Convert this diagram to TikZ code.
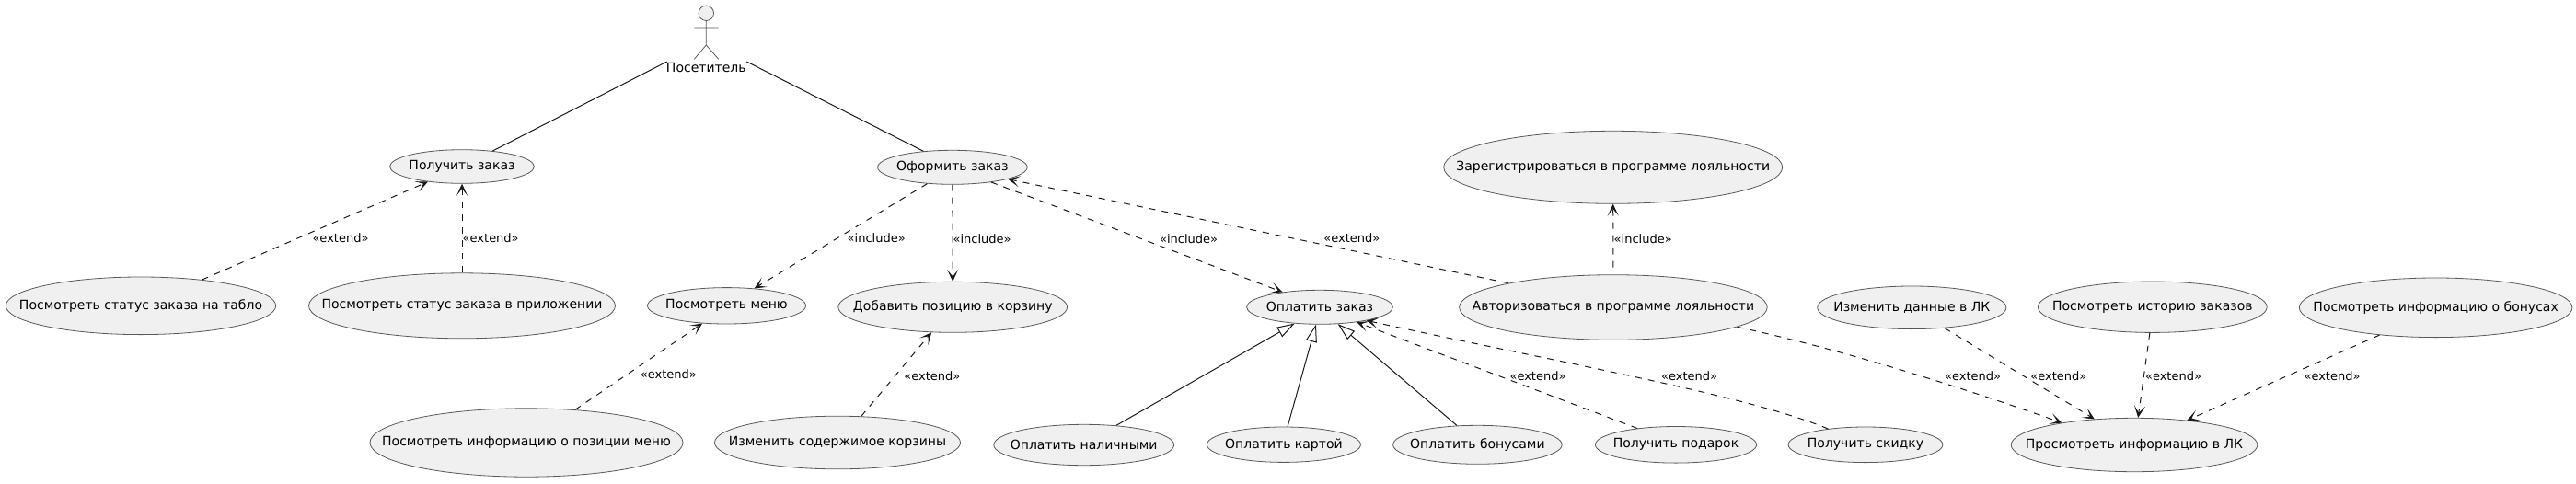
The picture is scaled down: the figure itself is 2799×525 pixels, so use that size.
\documentclass[tikz,border=0pt]{standalone}
\usepackage{fontspec}
\setmainfont{DejaVu Sans}
\usetikzlibrary{arrows.meta,shapes.geometric}

\newcommand{\uctext}[1]{\makebox[0pt]{#1}}

\begin{document}
\begin{tikzpicture}[
    x=0.5pt, y=-0.5pt,
    usecase/.style 2 args={ellipse, draw=black!65, fill=black!6, line width=0.4pt,
      inner sep=0pt, minimum width=#1pt, minimum height=#2pt,
      font=\fontsize{7}{8}\selectfont},
    assoc/.style={draw=black!90, line width=0.5pt},
    dep/.style={draw=black!90, line width=0.5pt, dash pattern=on 3.5pt off 3.5pt,
      -{Stealth[length=6.5pt,width=6pt,inset=3.8pt]}},
    gen/.style={draw=black!90, line width=0.5pt,
      -{Triangle[open,fill=white,length=9.5pt,width=6pt]}},
    stereo/.style={inner sep=0pt, font=\fontsize{6.5}{8}\selectfont},
]
\useasboundingbox (0,0) rectangle (2799,525);

% ---------------------------------------------------------
% Actor
% ---------------------------------------------------------
\node[circle, draw=black!65, fill=black!6, line width=0.4pt, inner sep=0pt,
  minimum size=8.2pt] (head) at (767.3,14.3) {};
\coordinate (hip) at (767.3,49);
\coordinate (armw) at (754.3,30);
\coordinate (arme) at (780.7,30);
\coordinate (legw) at (754.3,64.3);
\coordinate (lege) at (780.7,64.3);
\draw[draw=black!65, line width=0.4pt] (head.south) -- (hip) (armw) -- (arme)
  (legw) -- (hip) -- (lege);
\node[inner sep=0pt, font=\fontsize{7}{8}\selectfont] (visitor) at (767.3,73) {Посетитель};
\coordinate (visitorw) at (724.7,67);
\coordinate (visitore) at (811.3,67);

% ---------------------------------------------------------
% Use cases
% ---------------------------------------------------------
\node[usecase={78.4}{18.3}] (receive) at (502,181) {\uctext{Получить заказ}};
\node[usecase={146.7}{31.3}] (board) at (153,332.3) {\uctext{Посмотреть статус заказа на табло}};
\node[usecase={166.5}{35.5}] (app) at (502,332.3) {\uctext{Посмотреть статус заказа в приложении}};
\node[usecase={81.3}{18.5}] (order) at (1034.9,181.8) {\uctext{Оформить заказ}};
\node[usecase={86}{19.7}] (menu) at (789.5,332.3) {\uctext{Посмотреть меню}};
\node[usecase={170}{37.2}] (item) at (572,481) {\uctext{Посмотреть информацию о позиции меню}};
\node[usecase={124.4}{27.5}] (add) at (1035.2,333.8) {\uctext{Добавить позицию в корзину}};
\node[usecase={133.5}{28.8}] (cart) at (910,481) {\uctext{Изменить содержимое корзины}};
\node[usecase={79.4}{18.5}] (pay) at (1434,333.8) {\uctext{Оплатить заказ}};
\node[usecase={97.9}{22.2}] (cash) at (1177.7,483.5) {\uctext{Оплатить наличными}};
\node[usecase={83.5}{19.2}] (card) at (1394.9,483.2) {\uctext{Оплатить картой}};
\node[usecase={91.8}{21}] (bonus) at (1605.4,483.3) {\uctext{Оплатить бонусами}};
\node[usecase={87.6}{19.8}] (gift) at (1821,483.3) {\uctext{Получить подарок}};
\node[usecase={83.9}{19.3}] (sale) at (2027,483.3) {\uctext{Получить скидку}};
\node[usecase={184}{39.5}] (register) at (1752.7,181.8) {\uctext{Зарегистрироваться в программе лояльности}};
\node[usecase={167.3}{35.3}] (login) at (1752.9,334) {\uctext{Авторизоваться в программе лояльности}};
\node[usecase={133.8}{29.2}] (account) at (2319,483.5) {\uctext{Просмотреть информацию в ЛК}};
\node[usecase={102.6}{23.3}] (edit) at (2077.3,334.3) {\uctext{Изменить данные в ЛК}};
\node[usecase={124.4}{27.7}] (history) at (2338.8,333.7) {\uctext{Посмотреть историю заказов}};
\node[usecase={148.3}{32.3}] (points) at (2646.6,334.3) {\uctext{Посмотреть информацию о бонусах}};

% ---------------------------------------------------------
% Connectors
% ---------------------------------------------------------
\draw[assoc] (visitorw) -- (receive.27);
\draw[assoc] (visitore) -- (order.151.6);

\draw[dep] (board.23.6) -- (receive.-156);
\draw[dep] (app.north) -- (receive.south);
\draw[dep] (order.-147) -- (menu.32.3);
\draw[dep] (item.34.2) -- (menu.-144.3);
\draw[dep] (order.south) -- (add.north);
\draw[dep] (cart.48.3) -- (add.-130.6);
\draw[dep] (order.-21.3) -- (pay.158.7);
\draw[dep] (login.167.8) -- (order.-12.8);
\draw[dep, shorten <=3.8pt] (login.north) -- (register.south);

\draw[gen] (cash.31.4) -- (pay.-147.7);
\draw[gen] (card.78.6) -- (pay.-102);
\draw[gen] (bonus.137.3) -- (pay.-43.4);
\draw[dep] (gift.157.8) -- (pay.-22);
\draw[dep] (sale.157) .. controls (1900,430) and (1700,395) .. (pay.-16.3);

\draw[dep] (login.-9.4) .. controls (1980,375) and (2100,410) .. (account.163.4);
\draw[dep] (edit.-32.8) -- (account.147.8);
\draw[dep] (history.-96.8) -- (account.82.6);
\draw[dep] (points.-154.5) -- (account.25);

% ---------------------------------------------------------
% Stereotypes
% ---------------------------------------------------------
\foreach \name/\x/\y in {exboard/370/258.7, exapp/533.2/258.7, exitem/726.4/407,
    excart/1012.9/409, exlogin/1468.9/259, exgift/1671/409, exsale/1835.6/409,
    exaccount/2143.6/408.7, exedit/2236.8/408.7, exhistory/2361.5/408.7,
    expoints/2534/408.7}
  {\node[stereo] (\name) at (\x,\y) {«extend»};}
\foreach \name/\x/\y in {inmenu/952.2/258.7, inadd/1067.1/260, inpay/1291.6/260,
    inregister/1785.2/260}
  {\node[stereo] (\name) at (\x,\y) {«include»};}

\end{tikzpicture}
\end{document}
